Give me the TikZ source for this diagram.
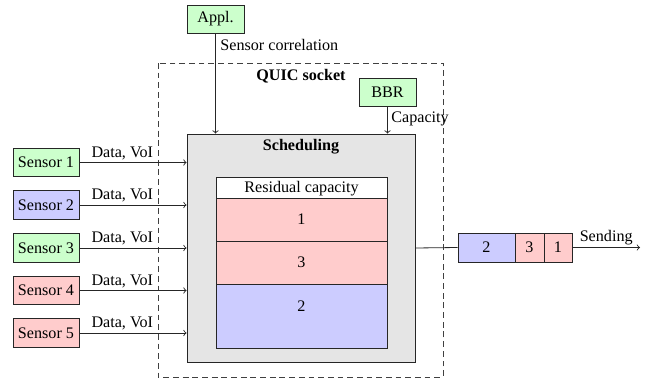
\documentclass[tikz,border=0pt]{standalone}
\usepackage{fontspec}
\setmainfont{Liberation Serif}
\usetikzlibrary{calc}
\begin{document}
\begin{tikzpicture}[x=0.62pt,y=-0.62pt,font=\fontsize{10}{12}\selectfont,
  every path/.style={line width=0.5pt},
  box/.style={draw=black!85,inner sep=0pt,minimum width=66*0.62pt,minimum height=28.5*0.62pt},
  smallbox/.style={draw=black!85,inner sep=0pt,minimum width=57*0.62pt,minimum height=28*0.62pt},
  qbox/.style={draw=black!85,inner sep=0pt,minimum height=29*0.62pt},
  layer/.style={draw=black!85,inner sep=0pt,minimum width=171*0.62pt},
  greenfill/.style={fill=green!20},
  bluefill/.style={fill=blue!20},
  redfill/.style={fill=red!20},
  conn/.style={draw=black!85,->},
  lbl/.style={inner sep=1.5pt}]
\useasboundingbox (0,0) rectangle (652,379);

% QUIC socket boundary
\draw[black!75,dash pattern=on 3.6pt off 2.4pt] (158,63) rectangle (443,377);
\node[font=\fontsize{10}{12}\selectfont\bfseries] (quic) at (301,76) {QUIC socket};

% scheduler
\node[draw=black!85,fill=black!10,minimum width=228*0.62pt,minimum height=228*0.62pt,inner sep=0pt] (sched) at (301,248) {};
\node[font=\fontsize{10}{12}\selectfont\bfseries] (schedlbl) at (301,147) {Scheduling};

% stacked allocation
\node[layer,fill=white,minimum height=21*0.62pt] (resid) at (301.5,187.5) {};
\node (residlbl) at (301.5,189) {Residual capacity};
\node[layer,redfill,minimum height=43*0.62pt] (b1) at (301.5,219.5) {1};
\node[layer,redfill,minimum height=43*0.62pt] (b3) at (301.5,262.5) {3};
\node[layer,bluefill,minimum height=64*0.62pt] (b2) at (301.5,316) {};
\node (b2lbl) at (301.5,306) {2};

% sensors
\node[box,greenfill] (s1) at (46,162.5) {Sensor 1};
\node[box,bluefill]  (s2) at (46,205)   {Sensor 2};
\node[box,greenfill] (s3) at (46,248)   {Sensor 3};
\node[box,redfill]   (s4) at (46,290.5) {Sensor 4};
\node[box,redfill]   (s5) at (46,333)   {Sensor 5};
\foreach \s in {s1,s2,s3,s4,s5}
  \draw[conn] (\s.east) -- (\s.east -| sched.west) node[pos=0.4,above,lbl] {Data, VoI};

% application and congestion control
\node[smallbox,greenfill] (appl) at (215.5,19) {Appl.};
\draw[conn] (appl.south) -- (appl.south |- sched.north);
\node[anchor=west,inner sep=0pt] (corr) at (220,45) {Sensor correlation};

\node[smallbox,greenfill] (bbr) at (387.5,92) {BBR};
\draw[conn] (bbr.south) -- (bbr.south |- sched.north);
\node[anchor=west,inner sep=0pt] (cap) at (391,119) {Capacity};

% sending queue
\node[qbox,bluefill,minimum width=57*0.62pt] (q2) at (486.5,247.5) {2};
\node[qbox,redfill,minimum width=29*0.62pt] (q3) at (529.5,247.5) {3};
\node[qbox,redfill,minimum width=28*0.62pt] (q1) at (558,247.5) {1};
\draw[black!85] (sched.east) -- (q2.west);
\coordinate (out) at (640,247.5);
\draw[conn] (q1.east) -- (out) node[midway,above,lbl] {Sending};
\end{tikzpicture}
\end{document}
